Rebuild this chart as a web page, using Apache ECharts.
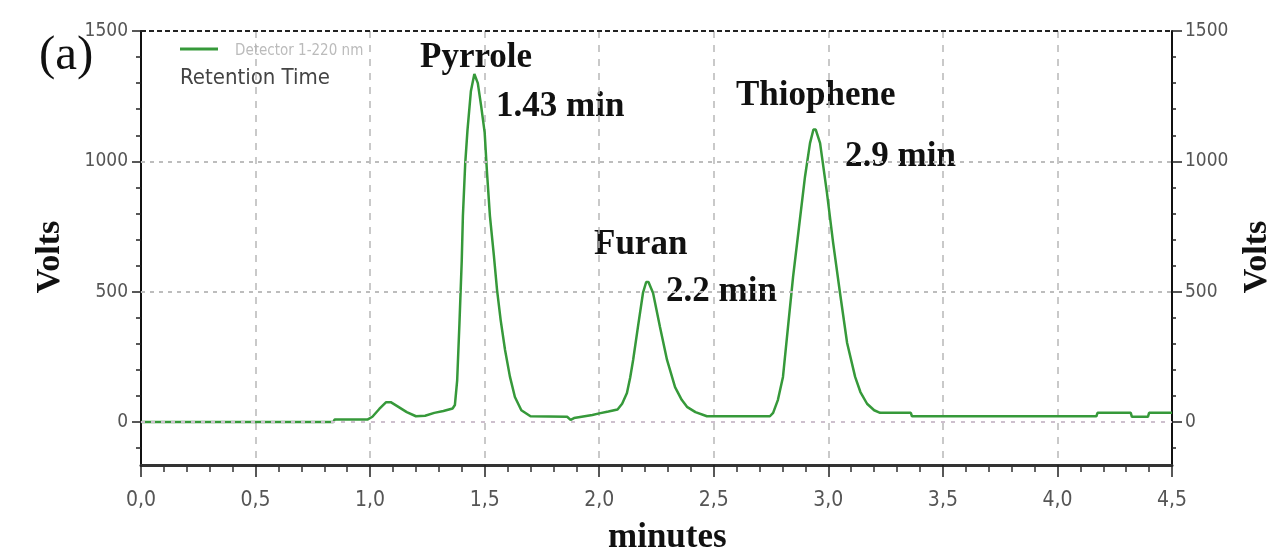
<!DOCTYPE html>
<html>
<head>
<meta charset="utf-8">
<script src="https://cdn.jsdelivr.net/npm/echarts@6/dist/echarts.min.js"></script>
<style>
html,body{margin:0;padding:0;background:#fff;}
#chart{width:1271px;height:550px;}
</style>
</head>
<body>
<div id="chart"></div>
<script>
// Retention time (minutes) and detector signal (Volts)
const timeMin = [0.00,0.84,0.845,0.99,1.01,1.04,1.07,1.09,1.12,1.16,1.20,1.24,1.28,1.32,1.36,1.37,1.38,1.39,1.40,1.405,1.415,1.425,1.44,1.455,1.47,1.485,1.50,1.51,1.523,1.54,1.554,1.57,1.589,1.61,1.632,1.66,1.70,1.86,1.875,1.89,1.97,2.00,2.04,2.08,2.10,2.121,2.135,2.148,2.169,2.191,2.205,2.215,2.235,2.265,2.296,2.331,2.36,2.383,2.42,2.47,2.745,2.759,2.78,2.802,2.824,2.846,2.872,2.898,2.92,2.935,2.945,2.964,2.994,3.021,3.051,3.082,3.117,3.14,3.169,3.20,3.226,3.36,3.365,4.17,4.175,4.32,4.325,4.395,4.40,4.50];
const volts   = [0,0,10,10,20,50,76,76,60,38,22,24,35,42,52,65,160,380,620,790,990,1120,1270,1335,1300,1210,1110,960,790,640,507,390,276,175,96,45,22,20,8,15,27,33,40,48,70,111,170,238,365,495,537,537,495,365,238,134,85,58,38,22,22,35,85,173,365,556,748,940,1070,1122,1122,1070,879,687,495,303,173,115,70,45,35,35,22,22,35,35,20,20,35,35];

const xTicks = [0,0.5,1,1.5,2,2.5,3,3.5,4,4.5];
const yMajor = [0,500,1000,1500];
const yMinor = [-100,0,100,200,300,400,500,600,700,800,900,1000,1100,1200,1300,1400,1500];

const peakNames = ['Pyrrole','Furan','Thiophene'];
const peakTimes = ['1.43 min','2.2 min','2.9 min'];

const narrow = '"Liberation Sans Narrow","Arial Narrow","DejaVu Sans Condensed","Liberation Sans",sans-serif';
const serif = '"Liberation Serif","Times New Roman",serif';
const green = '#36993a';

const chart = echarts.init(document.getElementById('chart'));
const lineData = timeMin.map((t,i)=>[t, volts[i]]);

function yAx(pos, tickVals, tickLen, showLine, showLabel){
  return {
    type:'value', position:pos, min:-165, max:1500,
    axisLine:{show:showLine, onZero:false, lineStyle:{color:'#111', width:2}},
    axisTick:{show:true, customValues:tickVals, length:tickLen, lineStyle:{color:'#222', width:1.5}},
    axisLabel:{show:showLabel, customValues:yMajor, margin:13, color:'#555', fontFamily:narrow, fontSize:19,
      formatter:v=>String(v)},
    splitLine:{show:false}
  };
}

chart.setOption({
  animation:false,
  grid:{left:141, right:99, top:31, bottom:85},
  xAxis:{
    type:'value', min:0, max:4.5, interval:0.5,
    axisLine:{onZero:false, lineStyle:{color:'#333', width:3}},
    axisTick:{length:12, lineStyle:{color:'#222', width:1.5}},
    minorTick:{show:true, splitNumber:5, length:7, lineStyle:{color:'#333', width:1.5}},
    axisLabel:{margin:25, color:'#555', fontFamily:narrow, fontSize:21,
      formatter:v=>v.toFixed(1).replace('.',',')},
    splitLine:{show:true, lineStyle:{color:'#b8b8b8', width:1.5, type:[7,7]}}
  },
  yAxis:[
    yAx('left', yMinor, 5, true, true),
    yAx('left', yMajor, 9, false, false),
    yAx('right', yMinor, 4, true, true),
    yAx('right', yMajor, 10, false, false)
  ],
  series:[
    {
      type:'line', data:[], z:1, silent:true,
      markLine:{
        silent:true, symbol:['none','none'], label:{show:false},
        data:[
          {yAxis:0, lineStyle:{color:'#cdbfcd', width:2, type:[4,6]}},
          {yAxis:500, lineStyle:{color:'#bdbdbd', width:2, type:[4,5]}},
          {yAxis:1000, lineStyle:{color:'#bdbdbd', width:2, type:[4,5]}},
          {yAxis:1500, lineStyle:{color:'#222', width:2, type:[5,3]}}
        ]
      }
    },
    {
      type:'line', data:lineData, z:3, showSymbol:false, smooth:false,
      lineStyle:{color:green, width:2.5}
    }
  ],
  graphic:[
    {type:'text', x:39, y:56, style:{text:'(a)', font:'49px '+serif, fill:'#111', verticalAlign:'middle'}},
    {type:'line', shape:{x1:180, y1:49, x2:218, y2:49}, style:{stroke:green, lineWidth:3}},
    {type:'text', x:235, y:51, style:{text:'Detector 1-220 nm', font:'15px '+narrow, fill:'#bbb', verticalAlign:'middle'}},
    {type:'text', x:180, y:78, style:{text:'Retention Time', font:'22px '+narrow, fill:'#444', verticalAlign:'middle'}},
    {type:'text', x:420, y:58, style:{text:peakNames[0], font:'bold 35px '+serif, fill:'#111', verticalAlign:'middle'}},
    {type:'text', x:496, y:107, style:{text:peakTimes[0], font:'bold 35px '+serif, fill:'#111', verticalAlign:'middle'}},
    {type:'text', x:594, y:245, style:{text:peakNames[1], font:'bold 35px '+serif, fill:'#111', verticalAlign:'middle'}},
    {type:'text', x:666, y:292, style:{text:peakTimes[1], font:'bold 35px '+serif, fill:'#111', verticalAlign:'middle'}},
    {type:'text', x:736, y:96, style:{text:peakNames[2], font:'bold 35px '+serif, fill:'#111', verticalAlign:'middle'}},
    {type:'text', x:845, y:157, style:{text:peakTimes[2], font:'bold 35px '+serif, fill:'#111', verticalAlign:'middle'}},
    {type:'text', x:608, y:538, style:{text:'minutes', font:'bold 35px '+serif, fill:'#111', verticalAlign:'middle'}},
    {type:'text', x:50, y:257, rotation:Math.PI/2, style:{text:'Volts', font:'bold 34px '+serif, fill:'#111', align:'center', verticalAlign:'middle'}},
    {type:'text', x:1257, y:257, rotation:Math.PI/2, style:{text:'Volts', font:'bold 34px '+serif, fill:'#111', align:'center', verticalAlign:'middle'}}
  ]
});
</script>
</body>
</html>
